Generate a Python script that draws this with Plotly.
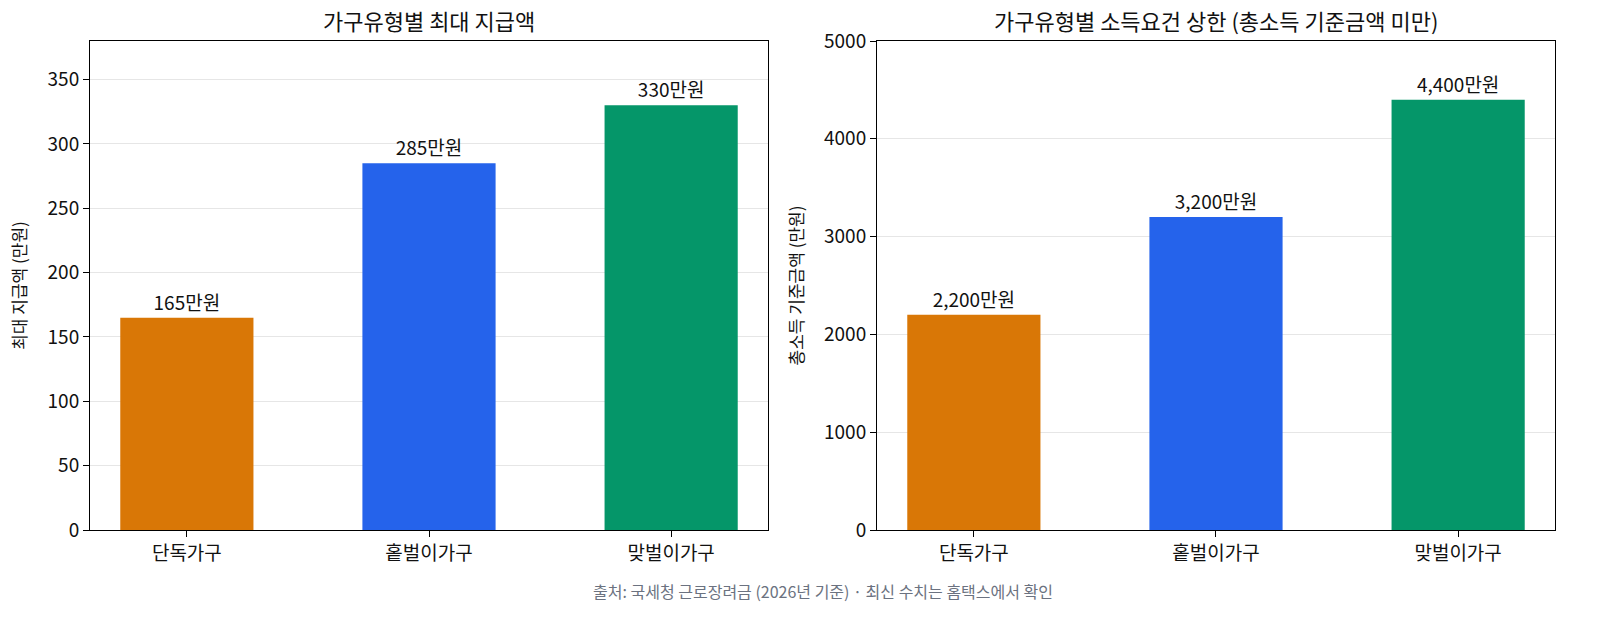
import plotly.graph_objects as go
from plotly.subplots import make_subplots

# data
categories = ['단독가구', '홑벌이가구', '맞벌이가구']
max_payment = [165, 285, 330]          # 만원
income_limit = [2200, 3200, 4400]      # 만원
bar_colors = ['#d97706', '#2563eb', '#059669']

FONT = 'Noto Sans CJK KR'

fig = make_subplots(rows=1, cols=2, horizontal_spacing=0.0744,
                    subplot_titles=('가구유형별 최대 지급액',
                                    '가구유형별 소득요건 상한 (총소득 기준금액 미만)'))

fig.add_trace(go.Bar(
    x=categories, y=max_payment,
    marker=dict(color=bar_colors, line=dict(width=0)),
    width=0.55,
    text=[f'{v}만원' for v in max_payment],
    textposition='outside', cliponaxis=False,
    textfont=dict(size=19, color='#111111'),
), row=1, col=1)

fig.add_trace(go.Bar(
    x=categories, y=income_limit,
    marker=dict(color=bar_colors, line=dict(width=0)),
    width=0.55,
    text=[f'{v:,}만원' for v in income_limit],
    textposition='outside', cliponaxis=False,
    textfont=dict(size=19, color='#111111'),
), row=1, col=2)

axis_style = dict(showline=True, linecolor='black', linewidth=1, mirror=True,
                  ticks='outside', ticklen=6, tickcolor='black',
                  tickfont=dict(size=19, color='#111111'))

fig.update_xaxes(range=[-0.4, 2.4], showgrid=False, **axis_style)
fig.update_yaxes(showgrid=True, gridcolor='#e6e6e6', zeroline=False, **axis_style)

fig.update_yaxes(range=[0, 380], dtick=50, row=1, col=1,
                 title=dict(text='최대 지급액 (만원)', font=dict(size=17, color='#111111'), standoff=16))
fig.update_yaxes(range=[0, 5000], dtick=1000, row=1, col=2,
                 title=dict(text='총소득 기준금액 (만원)', font=dict(size=17, color='#111111'), standoff=16))

for ann in fig.layout.annotations:
    ann.font = dict(size=22, color='#111111', family=FONT)
    ann.yshift = 3

fig.add_annotation(text='출처: 국세청 근로장려금 (2026년 기준) · 최신 수치는 홈택스에서 확인',
                   xref='paper', yref='paper', x=0.5, y=-0.125,
                   xanchor='center', yanchor='middle', showarrow=False,
                   font=dict(size=16, color='#6b7280', family=FONT))

fig.update_layout(
    width=1600, height=626,
    showlegend=False,
    plot_bgcolor='white', paper_bgcolor='white',
    font=dict(family=FONT, color='#111111'),
    margin=dict(l=90, r=45, t=41, b=96),
    bargap=0.45,
)

# drop the default body margin so the 1600x626 figure fills the window exactly
fig.write_html('out.html', config={'displayModeBar': False},
               post_script="document.body.style.margin='0';")
